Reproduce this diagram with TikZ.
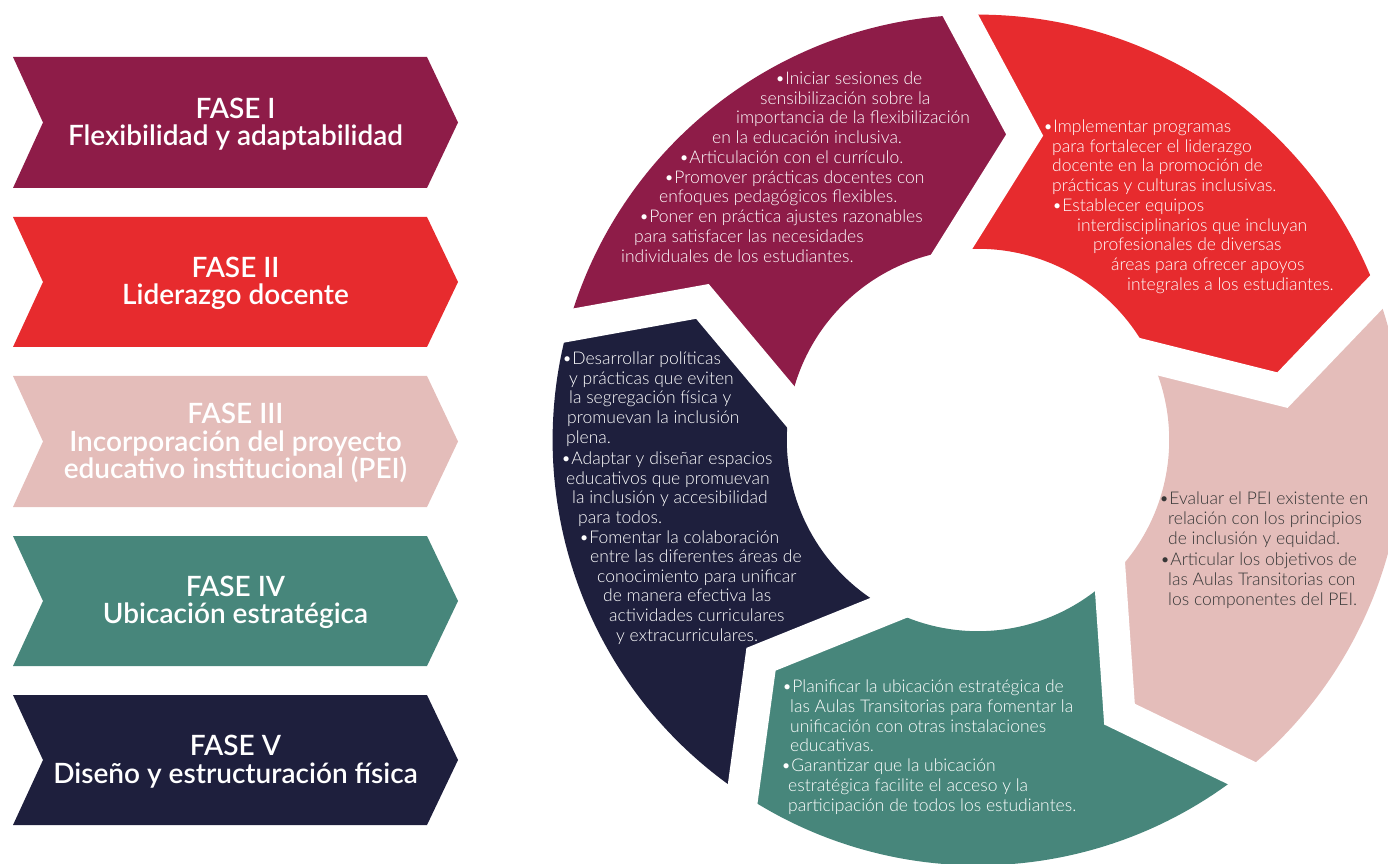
\documentclass[tikz,border=0pt]{standalone}
\usepackage{fontspec}
\setmainfont{Lato}
\IfFontExistsTF{Lato Semibold}{\newfontfamily\titlefont{Lato Semibold}}{\newcommand\titlefont{\bfseries}}
\IfFontExistsTF{Lato Light}{\newfontfamily\bodyfont{Lato Light}}{\newcommand\bodyfont{\normalfont}}
\usetikzlibrary{calc}
\definecolor{cMaroon}{RGB}{142,28,72}
\definecolor{cRed}{RGB}{231,43,46}
\definecolor{cPink}{RGB}{228,189,186}
\definecolor{cTeal}{RGB}{71,134,123}
\definecolor{cNavy}{RGB}{30,31,61}
\definecolor{cGray}{RGB}{55,55,55}
\begin{document}
\begin{tikzpicture}[x=1pt,y=1pt,
  fase/.style={text=white, align=center, inner sep=0pt, font=\titlefont\fontsize{28}{27.5}\selectfont},
  bt/.style={anchor=base west, inner sep=0pt, text=white, font=\bodyfont\fontsize{17.5}{19}\selectfont},
  gap/.style={white, line width=32pt, line join=miter, miter limit=10}]
\useasboundingbox (0,0) rectangle (1388,863);
\clip (0,0) rectangle (1388,863);
% ---------- left chevrons ----------
\fill[cMaroon] (13,806) -- (427,806) -- (458,740.5) -- (427,675) -- (13,675) -- (43,740.5) -- cycle;
\fill[cRed]    (13,646) -- (427,646) -- (458,581) -- (427,516) -- (13,516) -- (43,581) -- cycle;
\fill[cPink]   (13,487) -- (427,487) -- (458,421.5) -- (427,356) -- (13,356) -- (43,421.5) -- cycle;
\fill[cTeal]   (13,327) -- (427,327) -- (458,262) -- (427,197) -- (13,197) -- (43,262) -- cycle;
\fill[cNavy]   (13,168) -- (427,168) -- (458,103) -- (427,38) -- (13,38) -- (43,103) -- cycle;
\node[fase] (f1) at (235.5,739) {FASE I\\Flexibilidad y adaptabilidad};
\node[fase] (f2) at (235.5,579.5) {FASE II\\Liderazgo docente};
\node[fase] (f3) at (235.5,420) {FASE III\\Incorporación del proyecto\\educativo institucional (PEI)};
\node[fase] (f4) at (235.5,260.5) {FASE IV\\Ubicación estratégica};
\node[fase] (f5) at (235.5,101.5) {FASE V\\Diseño y estructuración física};
% ---------- ring ----------
\coordinate (C) at (978,423);
\foreach \k/\a/\b/\c in {0/92.4/81.3/97.7, 1/20.4/9.3/25.7, 2/-51.6/-62.7/-46.3, 3/-123.6/-134.7/-118.3, 4/164.4/153.3/169.7}{
  \coordinate (O\k) at ($(C)+(\a:425.4)$);
  \coordinate (M\k) at ($(C)+(\b:308.5)$);
  \coordinate (I\k) at ($(C)+(\c:191.2)$);
}
\fill[cMaroon] (O4) arc[start angle=164.4, end angle=92.4, radius=425.4] -- (M0) -- (I0) arc[start angle=97.7, end angle=169.7, radius=191.2] -- (M4) -- cycle;
\fill[cRed] (O0) arc[start angle=92.4, end angle=20.4, radius=425.4] -- (M1) -- (I1) arc[start angle=25.7, end angle=97.7, radius=191.2] -- (M0) -- cycle;
\fill[cPink] (O1) arc[start angle=20.4, end angle=-51.6, radius=425.4] -- (M2) -- (I2) arc[start angle=-46.3, end angle=25.7, radius=191.2] -- (M1) -- cycle;
\fill[cTeal] (O2) arc[start angle=-51.6, end angle=-123.6, radius=425.4] -- (M3) -- (I3) arc[start angle=-118.3, end angle=-46.3, radius=191.2] -- (M2) -- cycle;
\fill[cNavy] (O3) arc[start angle=-123.6, end angle=-195.6, radius=425.4] -- (M4) -- (I4) arc[start angle=-190.3, end angle=-118.3, radius=191.2] -- (M3) -- cycle;
\foreach \k in {0,...,4}{
  \draw[gap] ($(M\k)!1.25!(O\k)$) -- (M\k) -- ($(M\k)!1.4!(I\k)$);
}
% ---------- maroon text ----------
\node[bt] (m1) at (775,778) {•Iniciar sesiones de};
\node[bt] (m2) at (760,758) {sensibilización sobre la};
\node[bt] (m3) at (736,739) {importancia de la flexibilización};
\node[bt] (m4) at (712,719) {en la educación inclusiva.};
\node[bt] (m5) at (679,699) {•Articulación con el currículo.};
\node[bt] (m6) at (664,679) {•Promover prácticas docentes con};
\node[bt] (m7) at (659,660) {enfoques pedagógicos flexibles.};
\node[bt] (m8) at (639,640) {•Poner en práctica ajustes razonables};
\node[bt] (m9) at (634,620) {para satisfacer las necesidades};
\node[bt] (m10) at (621,600) {individuales de los estudiantes.};
% ---------- red text ----------
\node[bt] (r1) at (1043,730) {•Implementar programas};
\node[bt] (r2) at (1052,710) {para fortalecer el liderazgo};
\node[bt] (r3) at (1052,691) {docente en la promoción de};
\node[bt] (r4) at (1052,671) {prácticas y culturas inclusivas.};
\node[bt] (r5) at (1052,651) {•Establecer equipos};
\node[bt] (r6) at (1077,631) {interdisciplinarios que incluyan};
\node[bt] (r7) at (1093,612) {profesionales de diversas};
\node[bt] (r8) at (1111,592) {áreas para ofrecer apoyos};
\node[bt] (r9) at (1127,572) {integrales a los estudiantes.};
% ---------- pink text ----------
\node[bt,text=cGray] (p1) at (1159,359) {•Evaluar el PEI existente en};
\node[bt,text=cGray] (p2) at (1168,339) {relación con los principios};
\node[bt,text=cGray] (p3) at (1168,319) {de inclusión y equidad.};
\node[bt,text=cGray] (p4) at (1160,298) {•Articular los objetivos de};
\node[bt,text=cGray] (p5) at (1168,278) {las Aulas Transitorias con};
\node[bt,text=cGray] (p6) at (1168,258) {los componentes del PEI.};
% ---------- navy text ----------
\node[bt] (n1) at (562,498) {•Desarrollar políticas};
\node[bt] (n2) at (569,478) {y prácticas que eviten};
\node[bt] (n3) at (569,459) {la segregación física y};
\node[bt] (n4) at (567,439) {promuevan la inclusión};
\node[bt] (n5) at (566,420) {plena.};
\node[bt] (n6) at (561,399) {•Adaptar y diseñar espacios};
\node[bt] (n7) at (566,379) {educativos que promuevan};
\node[bt] (n8) at (572,360) {la inclusión y accesibilidad};
\node[bt] (n9) at (578,340) {para todos.};
\node[bt] (n10) at (579,320) {•Fomentar la colaboración};
\node[bt] (n11) at (590,301) {entre las diferentes áreas de};
\node[bt] (n12) at (597,281) {conocimiento para unificar};
\node[bt] (n13) at (603,262) {de manera efectiva las};
\node[bt] (n14) at (609,242) {actividades curriculares};
\node[bt] (n15) at (616,222) {y extracurriculares.};
% ---------- teal text ----------
\node[bt] (t1) at (782,171) {•Planificar la ubicación estratégica de};
\node[bt] (t2) at (790,151) {las Aulas Transitorias para fomentar la};
\node[bt] (t3) at (790,131) {unificación con otras instalaciones};
\node[bt] (t4) at (790,112) {educativas.};
\node[bt] (t5) at (781,92) {•Garantizar que la ubicación};
\node[bt] (t6) at (788,72) {estratégica facilite el acceso y la};
\node[bt] (t7) at (788,52) {participación de todos los estudiantes.};
\end{tikzpicture}
\end{document}
